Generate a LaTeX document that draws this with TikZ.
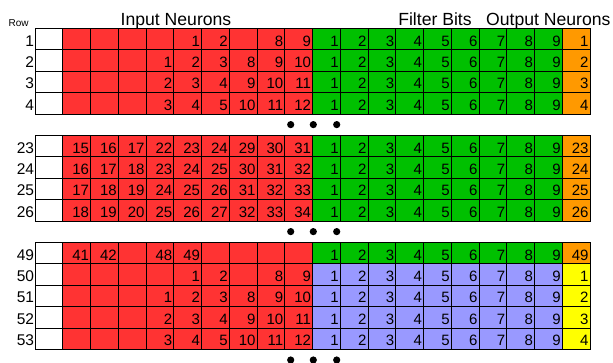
\documentclass[tikz,border=0pt]{standalone}
\usepackage{fontspec}
\setmainfont{Liberation Sans}
\definecolor{inred}{HTML}{FF3333}
\definecolor{fbgreen}{HTML}{00C000}
\definecolor{fbblue}{HTML}{9999FF}
\definecolor{outorange}{HTML}{FF9900}
\definecolor{outyellow}{HTML}{FFFF00}

\begin{document}
\begin{tikzpicture}[
    x=1pt, y=-1pt,
    cell/.style={draw, line width=0.8pt, minimum width=27.75pt, minimum height=21.4pt,
        text width=24.75pt, align=right, inner sep=1.5pt, text height=14pt, text depth=0pt,
        font=\fontsize{15}{15}\selectfont},
    rowlabel/.style={anchor=east, inner sep=0pt, text height=14pt, text depth=0pt,
        font=\fontsize{15.5}{15.5}\selectfont},
    header/.style={anchor=base, inner sep=0pt, font=\fontsize{17.6}{17.6}\selectfont},
    dot/.style={fill=black}
]
\useasboundingbox (0,0) rectangle (613,362);

% headers
\node[header, font=\fontsize{10}{10}\selectfont] (rowhead) at (18.7,26) {Row};
\node[header] (inhead) at (176,25) {Input Neurons};
\node[header] (fbhead) at (435,25) {Filter Bits};
\node[header] (outhead) at (548.3,25) {Output Neurons};

% rows: index / label / input neurons / filter colour / output colour / output neuron
\foreach \k/\lab/\ins/\fbc/\outc/\outv in {
    0/1/{,,,,1,2,,8,9}/fbgreen/outorange/1,
    1/2/{,,,1,2,3,8,9,10}/fbgreen/outorange/2,
    2/3/{,,,2,3,4,9,10,11}/fbgreen/outorange/3,
    3/4/{,,,3,4,5,10,11,12}/fbgreen/outorange/4,
    5/23/{15,16,17,22,23,24,29,30,31}/fbgreen/outorange/23,
    6/24/{16,17,18,23,24,25,30,31,32}/fbgreen/outorange/24,
    7/25/{17,18,19,24,25,26,31,32,33}/fbgreen/outorange/25,
    8/26/{18,19,20,25,26,27,32,33,34}/fbgreen/outorange/26,
    10/49/{41,42,,48,49,,,,}/fbgreen/outorange/49,
    11/50/{,,,,1,2,,8,9}/fbblue/outyellow/1,
    12/51/{,,,1,2,3,8,9,10}/fbblue/outyellow/2,
    13/52/{,,,2,3,4,9,10,11}/fbblue/outyellow/3,
    14/53/{,,,3,4,5,10,11,12}/fbblue/outyellow/4} {
  \pgfmathsetmacro\yc{28.3+(\k+0.5)*21.4}
  \node[rowlabel] (lab-\k) at (34.3,\yc) {\lab};
  \node[cell, fill=white] (blank-\k) at (48.875,\yc) {};
  \foreach \v [count=\c] in \ins
    \node[cell, fill=inred] (in-\k-\c) at ({35+(\c+0.5)*27.75},\yc) {\v};
  \foreach \c in {1,...,9}
    \node[cell, fill=\fbc] (fb-\k-\c) at ({35+(\c+9.5)*27.75},\yc) {\c};
  \node[cell, fill=\outc] (out-\k) at ({35+19.5*27.75},\yc) {\outv};
}

% ellipsis dots between the blocks
\foreach \k in {4,9,15}
  \foreach \x in {290.7,313.3,336.7}
    \fill[dot] (\x,{28.3+(\k+0.5)*21.4}) circle[radius=3.6pt];

\end{tikzpicture}
\end{document}
